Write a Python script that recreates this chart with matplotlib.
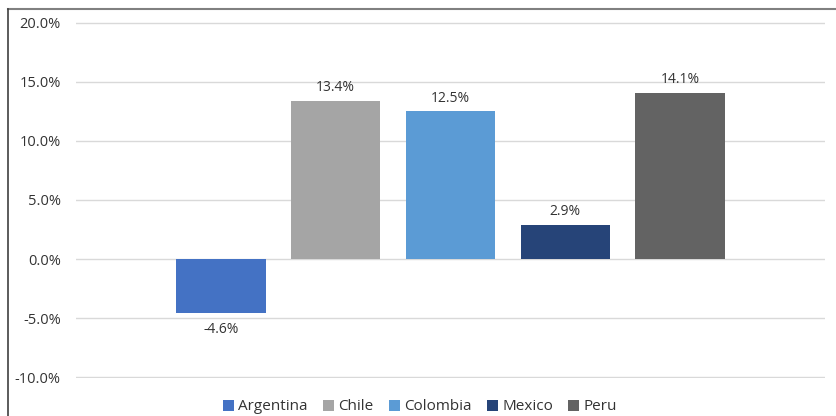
import matplotlib.pyplot as plt
from matplotlib.lines import Line2D
from matplotlib.ticker import FuncFormatter

# --- DATA ---
countries = ["Argentina", "Chile", "Colombia", "Mexico", "Peru"]
values = [-4.6, 13.4, 12.5, 2.9, 14.1]
colors = ["#4472C4", "#A5A5A5", "#5B9BD5", "#264478", "#636363"]
yticks = [-10, -5, 0, 5, 10, 15, 20]

plt.rcParams['font.family'] = ['Open Sans', 'DejaVu Sans']

W, H = 836, 416
fig = plt.figure(figsize=(W / 100, H / 100), dpi=100)
ax = fig.add_axes([76 / W, (H - 378) / H, (825 - 76) / W, (378 - 22) / H])

pos = list(range(len(countries)))
bars = ax.bar(pos, values, width=0.78, color=colors, label=countries, zorder=2)

# data labels
for b, v in zip(bars, values):
    off = 4 if v >= 0 else -6
    va = "bottom" if v >= 0 else "top"
    ax.annotate(f"{v:.1f}%", (b.get_x() + b.get_width() / 2, v),
                xytext=(0, off), textcoords="offset points",
                ha="center", va=va, fontsize=10, color="#333333")

ax.set_xlim(-1.26, 5.26)
ax.set_ylim(-10.08, 20.08)
ax.set_yticks(yticks)
ax.yaxis.set_major_formatter(FuncFormatter(lambda y, _: f"{y:.1f}%"))
ax.tick_params(axis="y", length=0, pad=11, labelsize=10.5, labelcolor="#333333")
ax.set_xticks([])
ax.grid(axis="y", color="#D9D9D9", linewidth=1, zorder=0)
for s in ax.spines.values():
    s.set_visible(False)

fig.legend(handles=bars, labels=countries, loc="center", bbox_to_anchor=(420 / W, (H - 407) / H),
           ncol=5, frameon=False, fontsize=11, handlelength=0.7, handleheight=0.7,
           handletextpad=0.3, columnspacing=1.0, labelcolor="#333333")

# outer frame (top and left edges visible in the screenshot)
fig.add_artist(Line2D([8 / W, 1], [(H - 9) / H, (H - 9) / H], color="#808080", lw=1.5, transform=fig.transFigure))
fig.add_artist(Line2D([8 / W, 8 / W], [0, (H - 9) / H], color="#404040", lw=1.2, transform=fig.transFigure))

fig.savefig("out.png", dpi=100)
